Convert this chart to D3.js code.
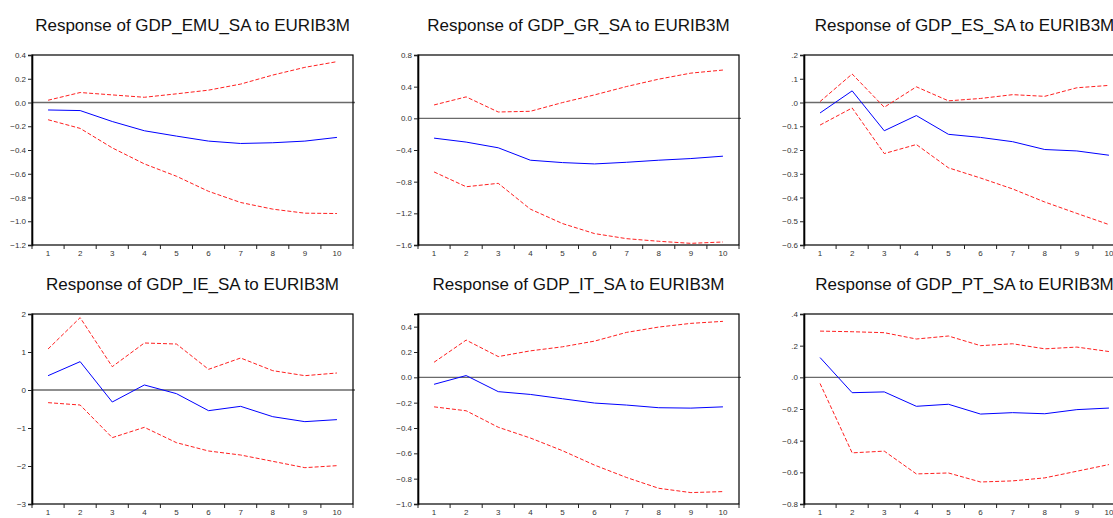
<!DOCTYPE html>
<html>
<head>
<meta charset="utf-8">
<script src="https://cdn.jsdelivr.net/npm/d3@7"></script>
<style>
body { margin: 0; background: #fff; }
svg { display: block; }
text { font-family: "Liberation Sans", Arial, sans-serif; }
</style>
</head>
<body>
<svg id="chart" width="1113" height="518"></svg>
<script>
// periods after the shock
var periods = [1, 2, 3, 4, 5, 6, 7, 8, 9, 10];

var titles = [
	"Response of GDP_EMU_SA to EURIB3M",
	"Response of GDP_GR_SA to EURIB3M",
	"Response of GDP_ES_SA to EURIB3M",
	"Response of GDP_IE_SA to EURIB3M",
	"Response of GDP_IT_SA to EURIB3M",
	"Response of GDP_PT_SA to EURIB3M"
];

// impulse responses (blue) and +/- 2 s.e. bands (red dashed)
var emu_resp  = [-0.063, -0.068, -0.160, -0.238, -0.283, -0.325, -0.345, -0.339, -0.325, -0.294];
var emu_upper = [0.019, 0.084, 0.064, 0.044, 0.073, 0.104, 0.155, 0.231, 0.296, 0.344];
var emu_lower = [-0.145, -0.218, -0.382, -0.517, -0.621, -0.748, -0.842, -0.898, -0.932, -0.935];

var gr_resp  = [-0.250, -0.300, -0.372, -0.529, -0.559, -0.576, -0.555, -0.529, -0.508, -0.478];
var gr_upper = [0.169, 0.271, 0.080, 0.089, 0.199, 0.296, 0.402, 0.495, 0.571, 0.610];
var gr_lower = [-0.677, -0.864, -0.821, -1.147, -1.329, -1.456, -1.520, -1.553, -1.579, -1.562];

var es_resp  = [-0.044, 0.049, -0.119, -0.055, -0.134, -0.147, -0.165, -0.198, -0.204, -0.222];
var es_upper = [0.004, 0.120, -0.020, 0.066, 0.007, 0.017, 0.033, 0.026, 0.062, 0.072];
var es_lower = [-0.095, -0.023, -0.215, -0.177, -0.275, -0.318, -0.364, -0.419, -0.467, -0.514];

var ie_resp  = [0.377, 0.746, -0.316, 0.132, -0.096, -0.544, -0.430, -0.702, -0.833, -0.780];
var ie_upper = [1.079, 1.904, 0.614, 1.237, 1.210, 0.544, 0.842, 0.509, 0.377, 0.447];
var ie_lower = [-0.333, -0.395, -1.254, -0.982, -1.386, -1.605, -1.711, -1.877, -2.044, -1.991];

var it_resp  = [-0.055, 0.014, -0.113, -0.135, -0.169, -0.203, -0.219, -0.240, -0.243, -0.233];
var it_upper = [0.119, 0.294, 0.164, 0.209, 0.241, 0.286, 0.355, 0.397, 0.426, 0.442];
var it_lower = [-0.233, -0.264, -0.394, -0.479, -0.579, -0.693, -0.791, -0.876, -0.910, -0.902];

var pt_resp  = [0.125, -0.097, -0.092, -0.183, -0.170, -0.232, -0.223, -0.230, -0.204, -0.194];
var pt_upper = [0.292, 0.288, 0.282, 0.242, 0.261, 0.200, 0.212, 0.180, 0.191, 0.163];
var pt_lower = [-0.039, -0.477, -0.466, -0.610, -0.604, -0.661, -0.654, -0.635, -0.593, -0.551];

// y axis ranges and tick values per panel
var y_domains = [[-1.2, 0.4], [-1.6, 0.8], [-0.6, 0.2], [-3, 2], [-1.0, 0.5], [-0.8, 0.4]];
var y_ticks = [
	[0.4, 0.2, 0.0, -0.2, -0.4, -0.6, -0.8, -1.0, -1.2],
	[0.8, 0.4, 0.0, -0.4, -0.8, -1.2, -1.6],
	[0.2, 0.1, 0.0, -0.1, -0.2, -0.3, -0.4, -0.5, -0.6],
	[2, 1, 0, -1, -2, -3],
	[0.4, 0.2, 0.0, -0.2, -0.4, -0.6, -0.8, -1.0],
	[0.4, 0.2, 0.0, -0.2, -0.4, -0.6, -0.8]
];
var y_formats = [".1f", ".1f", "nolead", "d", ".1f", "nolead"];

var responses = [emu_resp, gr_resp, es_resp, ie_resp, it_resp, pt_resp];
var uppers = [emu_upper, gr_upper, es_upper, ie_upper, it_upper, pt_upper];
var lowers = [emu_lower, gr_lower, es_lower, ie_lower, it_lower, pt_lower];

var svg = d3.select("#chart");

var plotW = 321, plotH = 190;
var colX = [32, 418, 804];
var rowY = [55, 314];

var fmtFor = function (kind) {
	if (kind == "nolead") {
		var f = d3.format(".1f");
		return function (v) { return f(v).replace(/^(-?)0\./, "$1."); };
	}
	return d3.format(kind);
}

var drawPanel = function (i) {
	var left = colX[i % 3], top = rowY[Math.floor(i / 3)];
	var g = svg.append("g").attr("transform", "translate(" + left + "," + top + ")");

	var x = d3.scaleBand().domain(periods).range([0, plotW]);
	var y = d3.scaleLinear().domain(y_domains[i]).range([plotH, 0]);
	var cx = function (d) { return x(d) + x.bandwidth() / 2; };

	// title
	g.append("text")
	.attr("x", plotW / 2)
	.attr("y", -24)
	.attr("text-anchor", "middle")
	.style("font-size", "17px")
	.style("fill", "#111")
	.text(titles[i]);

	// zero line
	g.append("line")
	.attr("x1", 0).attr("x2", plotW + 2)
	.attr("y1", y(0)).attr("y2", y(0))
	.style("stroke", "#6a6a6a")
	.style("stroke-width", 1.4);

	var line = d3.line()
	.x(function (d, k) { return cx(periods[k]); })
	.y(function (d) { return y(d); });

	g.append("path").datum(uppers[i]).attr("d", line)
	.style("fill", "none").style("stroke", "#ff2020").style("stroke-width", 1)
	.style("stroke-dasharray", "4,2");
	g.append("path").datum(lowers[i]).attr("d", line)
	.style("fill", "none").style("stroke", "#ff2020").style("stroke-width", 1)
	.style("stroke-dasharray", "4,2");
	g.append("path").datum(responses[i]).attr("d", line)
	.style("fill", "none").style("stroke", "#0000ff").style("stroke-width", 1);

	// frame
	g.append("rect")
	.attr("x", 0).attr("y", 0).attr("width", plotW).attr("height", plotH)
	.style("fill", "none").style("stroke", "#000").style("stroke-width", 1.2);

	// y axis
	var yAxis = d3.axisLeft(y).tickValues(y_ticks[i]).tickFormat(fmtFor(y_formats[i]))
	.tickSize(4).tickPadding(2);
	var ya = g.append("g").call(yAxis);
	ya.select(".domain").style("stroke", "#000").style("stroke-width", 1.6);
	ya.selectAll(".tick line").style("stroke", "#222");
	ya.selectAll("text").style("font-size", "8px").style("fill", "#333")
	.style("font-family", "'Liberation Sans', Arial, sans-serif");

	// x axis: labels at band centres, ticks at band edges
	var xAxis = d3.axisBottom(x).tickSize(0).tickPadding(5);
	var xa = g.append("g").attr("transform", "translate(0," + plotH + ")").call(xAxis);
	xa.select(".domain").remove();
	xa.selectAll("text").style("font-size", "8px").style("fill", "#333")
	.style("font-family", "'Liberation Sans', Arial, sans-serif");

	var edges = periods.map(function (d) { return x(d); }).concat([plotW]);
	g.selectAll(".xedge").data(edges).enter().append("line")
	.attr("x1", function (d) { return d; }).attr("x2", function (d) { return d; })
	.attr("y1", plotH).attr("y2", plotH + 4)
	.style("stroke", "#222").style("stroke-width", 1);
}

for (var i = 0; i < 6; i++) drawPanel(i);
</script>
</body>
</html>
